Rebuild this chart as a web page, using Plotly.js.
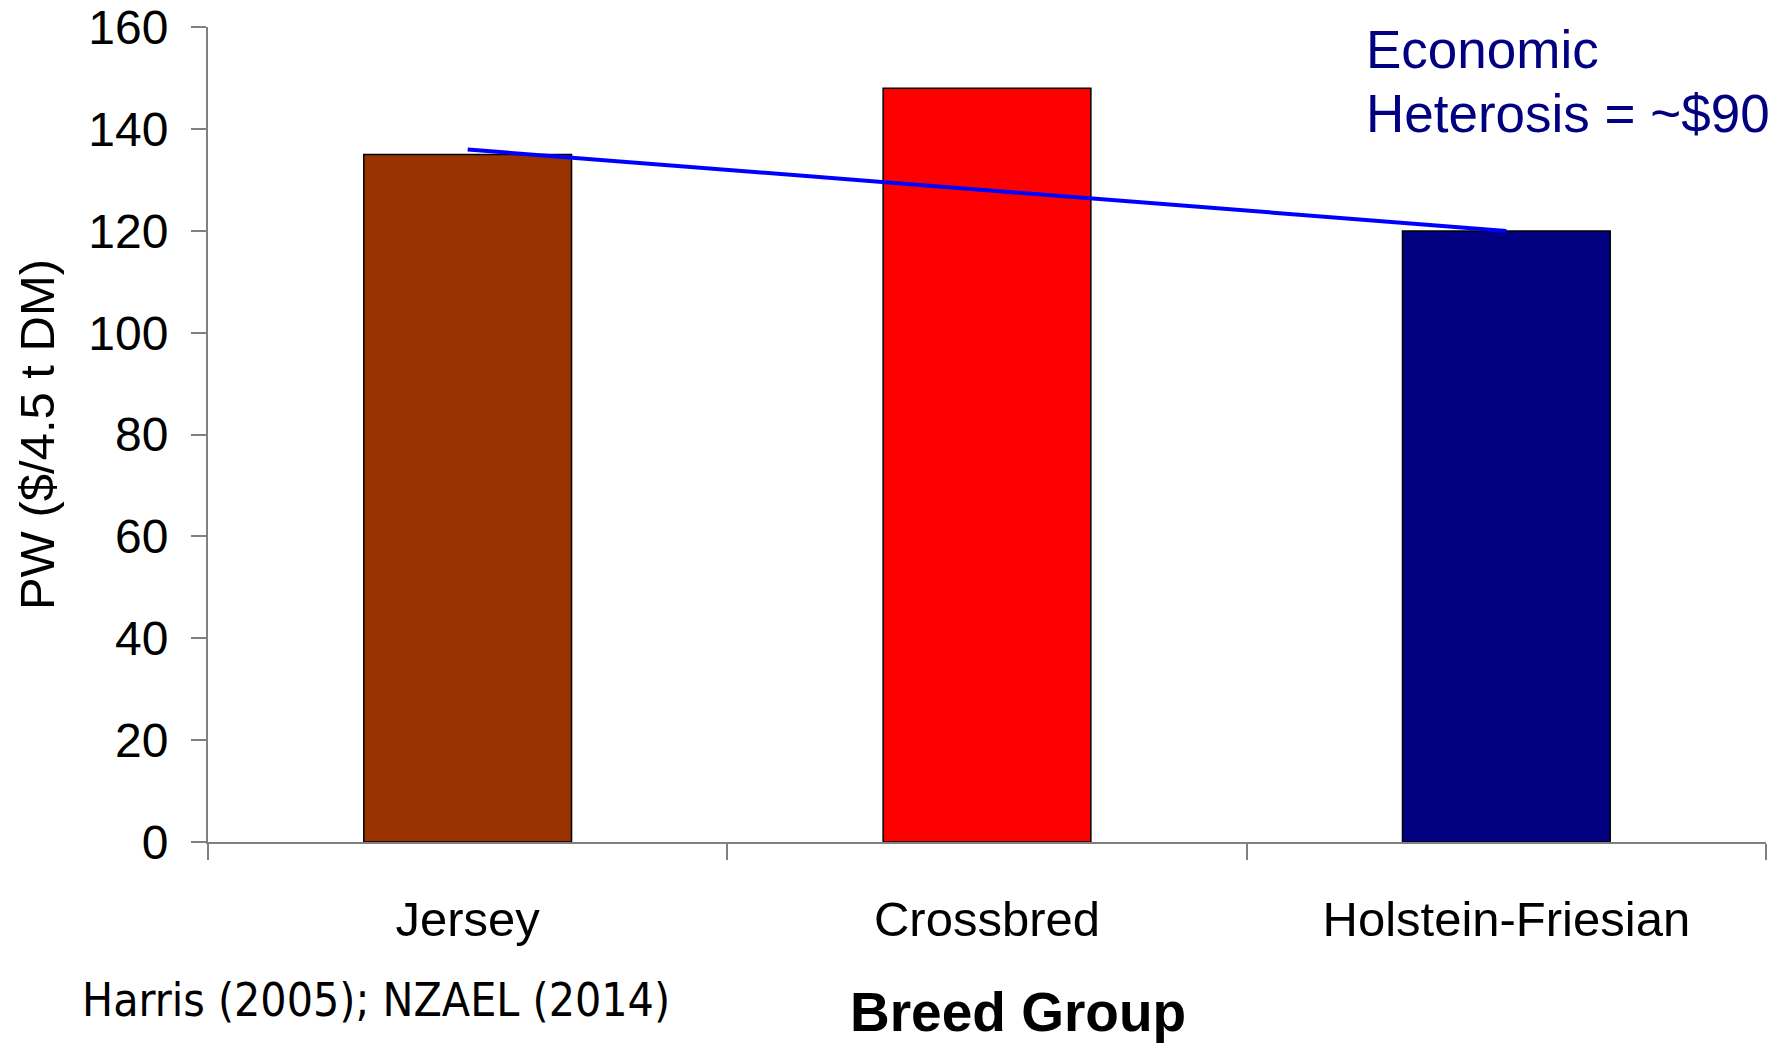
<!DOCTYPE html>
<html>
<head>
<meta charset="utf-8">
<script src="https://cdn.plot.ly/plotly-3.0.1.min.js"></script>
<style>
  html, body { margin: 0; padding: 0; background: #ffffff; }
  #chart { width: 1781px; height: 1045px; }
</style>
</head>
<body>
<div id="chart"></div>
<script>
// Data
const breeds = ["Jersey", "Crossbred", "Holstein-Friesian"];
const pwValues = [135, 148, 120];
const barColors = ["#993300", "#ff0000", "#000080"];

// Blue line joining the two parental breeds
const lineBreeds = ["Jersey", "Holstein-Friesian"];
const lineValues = [136, 120];

const yTicks = [0, 20, 40, 60, 80, 100, 120, 140, 160];

const baseFont = "Arial, 'Liberation Sans', sans-serif";

const traces = [
  {
    type: "bar",
    x: breeds,
    y: pwValues,
    marker: { color: barColors, line: { color: "#000000", width: 1.5 } },
    hoverinfo: "x+y",
    showlegend: false
  },
  {
    type: "scatter",
    mode: "lines",
    x: lineBreeds,
    y: lineValues,
    line: { color: "#0000ff", width: 4 },
    showlegend: false
  }
];

const layout = {
  width: 1781,
  height: 1045,
  paper_bgcolor: "#ffffff",
  plot_bgcolor: "#ffffff",
  margin: { l: 208, r: 15, t: 27, b: 203 },
  bargap: 0.6,
  font: { family: baseFont, color: "#000000", size: 48 },
  xaxis: {
    type: "category",
    range: [-0.5, 2.5],
    showline: true,
    linecolor: "#808080",
    linewidth: 2,
    showgrid: false,
    zeroline: false,
    ticks: "outside",
    tickson: "boundaries",
    ticklen: 16,
    tickcolor: "#808080",
    tickwidth: 1.5,
    ticklabelstandoff: 33,
    tickfont: { family: baseFont, size: 49, color: "#000000" }
  },
  yaxis: {
    range: [0, 160.05],
    tickvals: yTicks,
    ticktext: yTicks.map(String),
    showline: true,
    linecolor: "#808080",
    linewidth: 2,
    showgrid: false,
    zeroline: false,
    ticks: "outside",
    ticklen: 15,
    tickcolor: "#808080",
    tickwidth: 1.5,
    ticklabelstandoff: 13,
    ticklabeloverflow: "allow",
    tickfont: { family: baseFont, size: 48, color: "#000000" },
    title: {
      text: "PW ($/4.5 t DM)",
      font: { family: baseFont, size: 49, color: "#000000" },
      standoff: 18
    }
  },
  annotations: [
    {
      xref: "paper", yref: "paper",
      x: 0.742, y: 1.011,
      xanchor: "left", yanchor: "top",
      align: "left",
      showarrow: false,
      text: "Economic",
      font: { family: baseFont, size: 53, color: "#000080" }
    },
    {
      xref: "paper", yref: "paper",
      x: 0.742, y: 0.9328,
      xanchor: "left", yanchor: "top",
      align: "left",
      showarrow: false,
      text: "Heterosis = ~$90",
      font: { family: baseFont, size: 53, color: "#000080" }
    },
    {
      xref: "paper", yref: "paper",
      x: 0.52, y: -0.2082,
      xanchor: "center", yanchor: "middle",
      showarrow: false,
      text: "<b>Breed Group</b>",
      font: { family: baseFont, size: 55, color: "#000000" }
    },
    {
      xref: "paper", yref: "paper",
      x: -0.082, y: -0.1937,
      xanchor: "left", yanchor: "middle",
      showarrow: false,
      text: "Harris (2005); NZAEL (2014)",
      font: { family: "'DejaVu Sans Condensed', 'DejaVu Sans', sans-serif", size: 46, color: "#000000" }
    }
  ]
};

Plotly.newPlot("chart", traces, layout, { displayModeBar: false });
</script>
</body>
</html>
